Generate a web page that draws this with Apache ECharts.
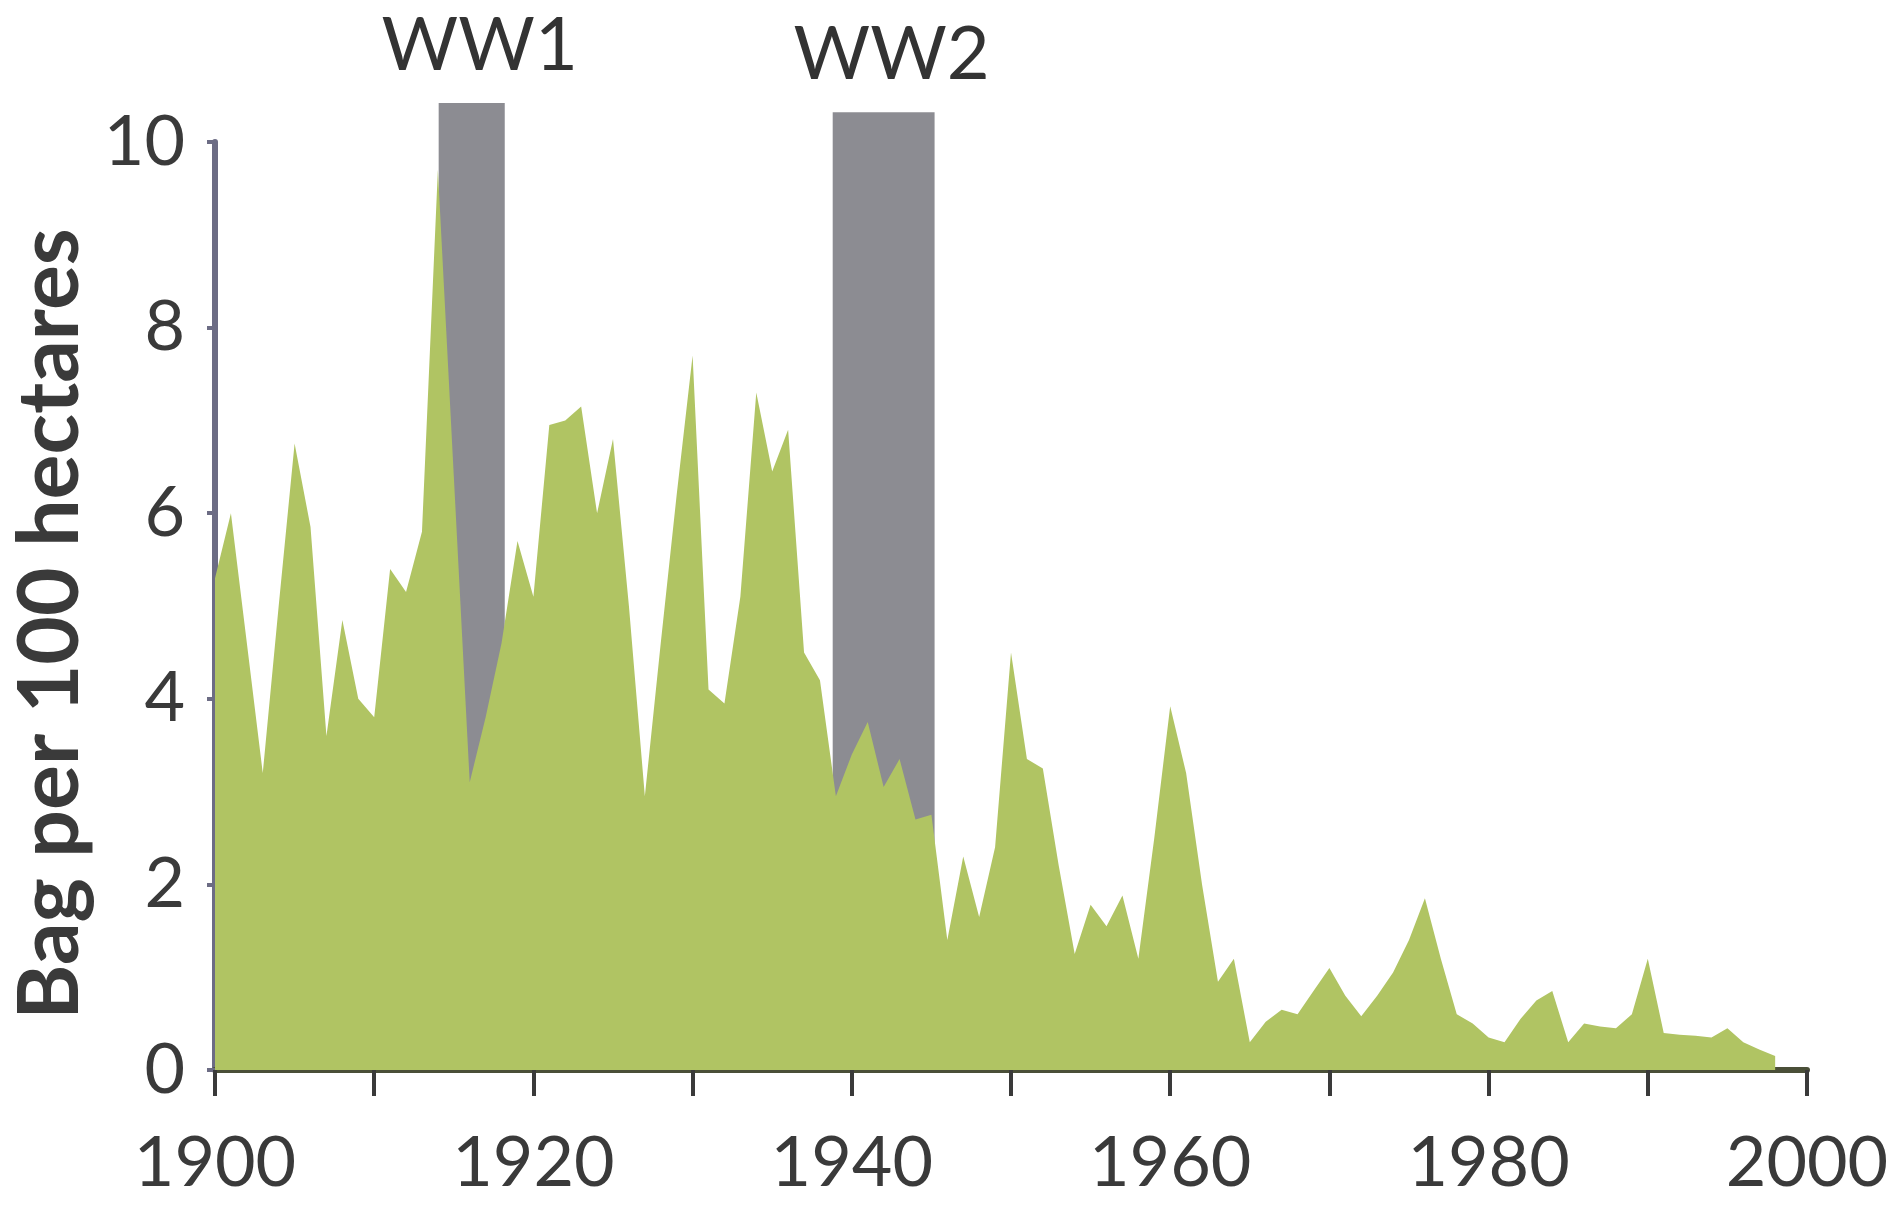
<!DOCTYPE html>
<html>
<head>
<meta charset="utf-8">
<script src="https://cdn.jsdelivr.net/npm/echarts@6/dist/echarts.min.js"></script>
<style>
html,body{margin:0;padding:0;background:#fff;}
#chart{width:1902px;height:1211px;}
</style>
</head>
<body>
<div id="chart"></div>
<script>
// ---- data ----
var years = [];
for (var y = 1900; y <= 1998; y++) years.push(y);
var bagValues = [
  5.3, 6.0, 4.6, 3.2, 5.0, 6.75, 5.85, 3.6, 4.85, 4.0,      // 1900-1909
  3.8, 5.4, 5.15, 5.8, 9.7, 6.4, 3.1, 3.8, 4.6, 5.7,        // 1910-1919
  5.1, 6.95, 7.0, 7.15, 6.0, 6.8, 5.0, 2.95, 4.6, 6.2,      // 1920-1929
  7.7, 4.1, 3.95, 5.1, 7.3, 6.45, 6.9, 4.5, 4.2, 2.95,      // 1930-1939
  3.4, 3.75, 3.05, 3.35, 2.7, 2.75, 1.4, 2.3, 1.65, 2.4,    // 1940-1949
  4.5, 3.35, 3.25, 2.2, 1.25, 1.78, 1.55, 1.88, 1.2, 2.5,   // 1950-1959
  3.92, 3.2, 2.0, 0.95, 1.2, 0.3, 0.52, 0.65, 0.6, 0.85,    // 1960-1969
  1.1, 0.8, 0.58, 0.8, 1.05, 1.4, 1.85, 1.2, 0.6, 0.5,      // 1970-1979
  0.35, 0.3, 0.55, 0.75, 0.85, 0.3, 0.5, 0.47, 0.45, 0.6,   // 1980-1989
  1.2, 0.4, 0.38, 0.37, 0.35, 0.45, 0.3, 0.22, 0.15         // 1990-1998
];
var warLabels = ['WW1', 'WW2'];
var warStart = [1914.05, 1938.8];
var warEnd = [1918.2, 1945.2];
var warTop = [10.42, 10.32];
var xTicks = [1900, 1920, 1940, 1960, 1980, 2000];
var yTicks = [0, 2, 4, 6, 8, 10];

// ---- build ----
var areaData = years.map(function (yr, i) { return [yr, bagValues[i]]; });
var warData = warLabels.map(function (lab, i) { return [warStart[i], warEnd[i], warTop[i], lab]; });

var FONT = 'Lato, "Open Sans", sans-serif';
var chart = echarts.init(document.getElementById('chart'));
chart.setOption({
  animation: false,
  backgroundColor: '#ffffff',
  grid: { left: 215, right: 95, top: 142, bottom: 141, containLabel: false, outerBoundsMode: 'none' },
  xAxis: {
    type: 'value', min: 1900, max: 2000, interval: 10,
    axisLine: { show: true, lineStyle: { color: '#4a4f38', width: 6 } },
    axisTick: { show: true, length: 26, lineStyle: { color: '#3a3a3a', width: 4 } },
    splitLine: { show: false },
    axisLabel: {
      margin: 58, fontSize: 70, fontWeight: 'normal', color: '#3a3a3a', fontFamily: FONT,
      showMinLabel: true, showMaxLabel: true,
      formatter: function (v) { return xTicks.indexOf(v) >= 0 ? String(v) : ''; }
    }
  },
  yAxis: {
    type: 'value', min: 0, max: 10, interval: 2,
    name: 'Bag per 100 hectares', nameLocation: 'middle', nameRotate: 90, nameGap: 118,
    nameTextStyle: { fontSize: 84, fontWeight: 'bold', color: '#3a3a3a', fontFamily: FONT, padding: [0, 36, 0, 0] },
    axisLine: { show: true, lineStyle: { color: '#6c6c84', width: 6 } },
    axisTick: { show: true, length: 8, lineStyle: { color: '#6c6c84', width: 4 } },
    splitLine: { show: false },
    axisLabel: {
      margin: 30, fontSize: 70, fontWeight: 'normal', color: '#3a3a3a', fontFamily: FONT,
      formatter: function (v) { return yTicks.indexOf(v) >= 0 ? String(v) : ''; }
    }
  },
  series: [
    {
      type: 'custom', z: 1, clip: false, silent: true,
      data: warData,
      encode: { x: [0, 1], y: 2 },
      renderItem: function (params, api) {
        var p0 = api.coord([api.value(0), 0]);
        var p1 = api.coord([api.value(1), api.value(2)]);
        var label = warLabels[params.dataIndex];
        return {
          type: 'group',
          children: [
            { type: 'rect', shape: { x: p0[0], y: p1[1], width: p1[0] - p0[0], height: p0[1] - p1[1] },
              style: { fill: '#8c8c92' } },
            { type: 'text', x: (p0[0] + p1[0]) / 2 + 8, y: p1[1] - 20,
              style: { text: label, fontSize: 74, fontWeight: 'normal', fontFamily: FONT, fill: '#333333',
                       textAlign: 'center', textVerticalAlign: 'bottom' } }
          ]
        };
      }
    },
    {
      type: 'line', z: 2, data: areaData, showSymbol: false, symbol: 'none',
      lineStyle: { width: 0, color: '#b0c463' },
      itemStyle: { color: '#b0c463' },
      areaStyle: { color: '#b0c463', opacity: 1 }
    }
  ]
});
</script>
</body>
</html>
